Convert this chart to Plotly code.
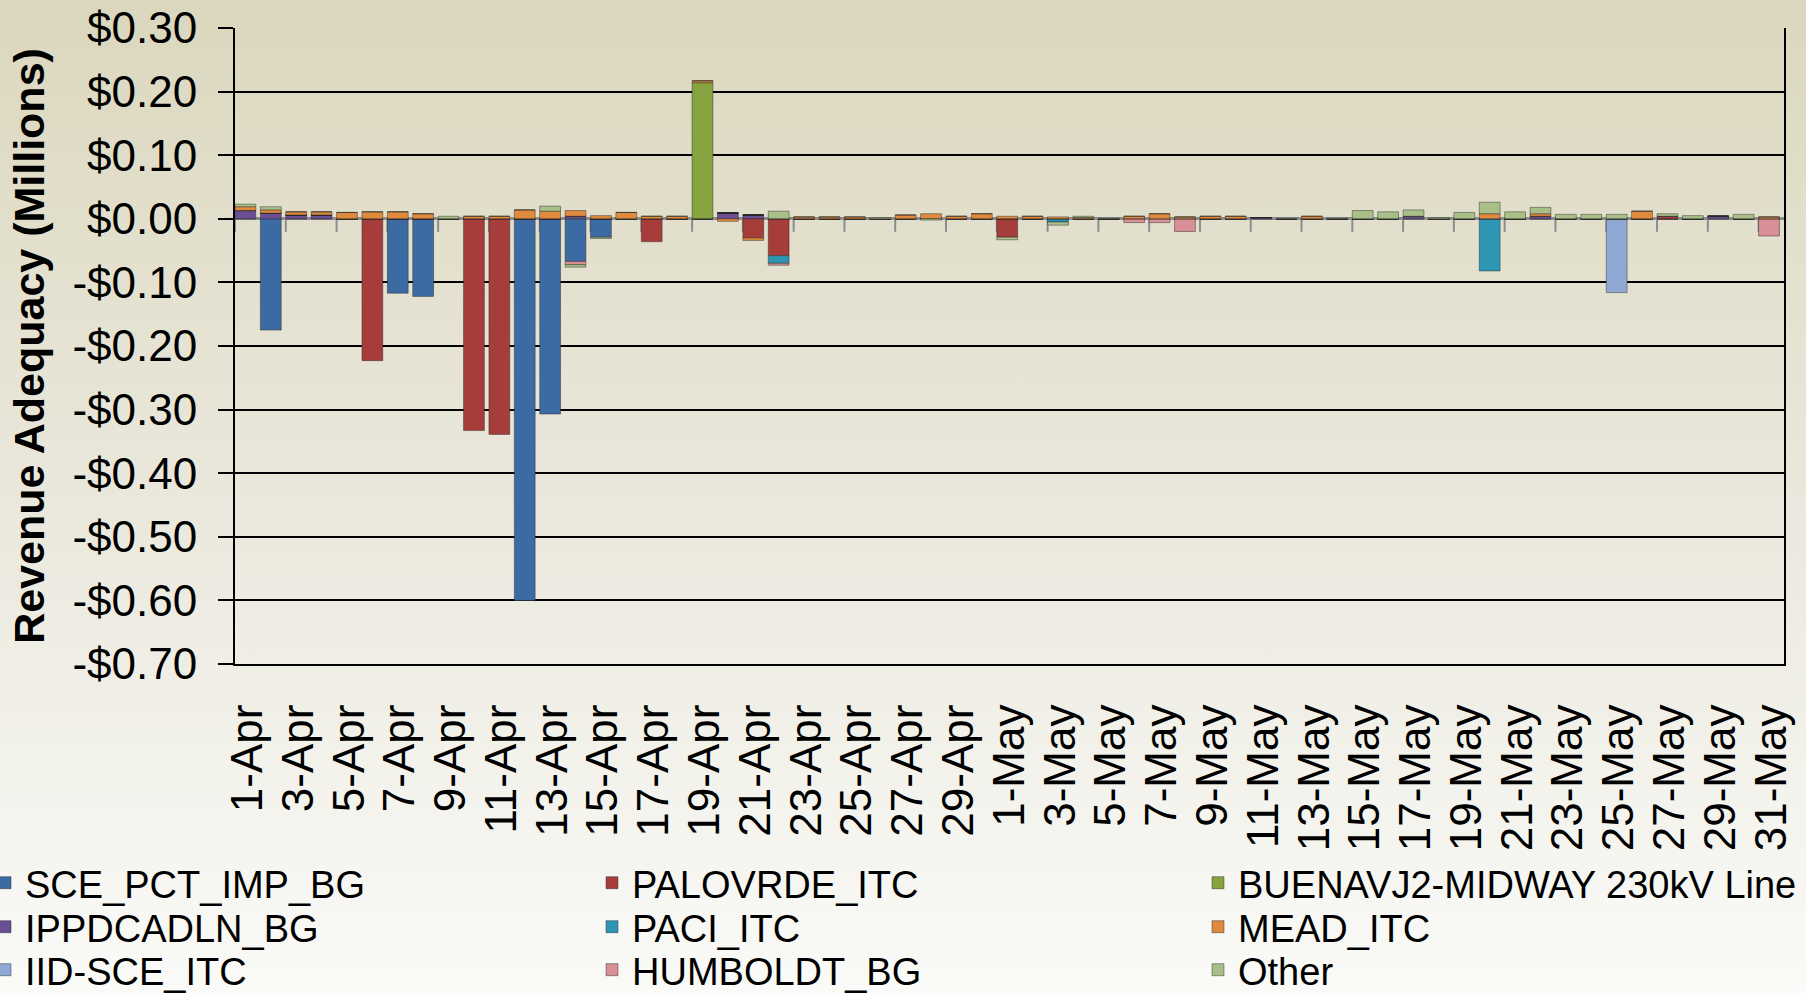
import base64
import plotly.graph_objects as go

# ---------------- data ----------------
DATES = [f"{d}-Apr" for d in range(1, 31)] + [f"{d}-May" for d in range(1, 32)]

SCE_PCT_IMP_BG = [
    0, -0.175, 0, 0, 0, 0, -0.117, -0.122, 0, 0,
    0, -0.600, -0.307, -0.067, -0.029, 0, 0, 0, 0, 0,
    0, 0, 0, 0, 0, 0, 0, 0, 0, 0,
    0, 0, 0, 0, 0, 0, 0, 0, 0, 0,
    0, 0, 0, 0, 0, 0, 0, 0, 0, 0,
    0, 0, 0, 0, 0, 0, 0, 0, 0, 0,
    0]
IPPDCADLN_BG = [
    0.013, 0.009, 0.006, 0.006, 0, 0, 0, 0, 0, 0,
    0, 0, 0, 0.004, 0, 0, 0, 0, 0, 0.009,
    0.006, 0, 0, 0, 0, 0, 0, 0, 0, 0,
    0, 0, 0, 0, 0, 0, 0, 0, 0, 0,
    0.002, 0, 0, 0, 0, 0, 0.004, 0, 0, 0,
    0, 0.004, 0, 0, 0, 0, 0, 0, 0.004, 0,
    0]
IID_SCE_ITC = [
    0, 0, 0, 0, 0, 0, 0, 0, 0, 0,
    0, 0, 0, 0, 0, 0, 0, 0, 0, 0,
    0, 0, 0, 0, 0, 0, 0, 0, 0, 0,
    0, 0, 0, 0, 0, 0, 0, 0, 0, 0,
    0, 0, 0, 0, 0, 0, 0, 0, 0, 0,
    0, 0, 0, 0, -0.116, 0, 0, 0, 0, 0,
    0]
PALOVRDE_ITC = [
    0, 0, 0, 0, 0, -0.223, 0, 0, 0, -0.333,
    -0.339, 0, 0, 0, 0, 0, -0.036, 0, 0, 0,
    -0.030, -0.058, 0, 0, 0, 0, 0, 0, 0, 0,
    -0.029, 0, 0, 0, 0, 0, 0, 0, 0, 0,
    0, 0, 0, 0, 0, 0, 0, 0, 0, 0,
    0, 0, 0, 0, 0, 0, 0.004, 0, 0, 0,
    0]
PACI_ITC = [
    0, 0, 0, 0, 0, 0, 0, 0, 0, 0,
    0, 0, 0, 0, 0, 0, 0, 0, 0, 0,
    0, -0.012, 0, 0, 0, 0, 0, 0, 0, 0,
    0, 0, -0.005, 0, 0, 0, 0, 0, 0, 0,
    0, 0, 0, 0, 0, 0, 0, 0, 0, -0.082,
    0, 0, 0, 0, 0, 0, 0, 0, 0, 0,
    0]
HUMBOLDT_BG = [
    0, 0, 0, 0, 0, 0, 0, 0, 0, 0,
    0, 0, 0, -0.005, 0, 0, 0, 0, 0, 0,
    0, -0.003, 0, 0, 0, 0, 0, 0, 0, 0,
    0, 0, 0, 0, 0, -0.006, -0.006, -0.020, 0, 0,
    0, 0, 0, 0, 0, 0, 0, 0, 0, 0,
    0, 0, 0, 0, 0, 0, 0, 0, 0, 0,
    -0.027]
BUENAVJ2_MIDWAY = [
    0, 0, 0, 0, 0, 0, 0, 0, 0, 0,
    0, 0, 0, 0, 0, 0, 0, 0, 0.214, 0,
    0, 0, 0, 0, 0, 0, 0, 0, 0, 0,
    0, 0, 0, 0, 0, 0, 0, 0, 0, 0,
    0, 0, 0, 0, 0, 0, 0, 0, 0, 0,
    0, 0, 0, 0, 0, 0, 0, 0, 0, 0,
    0]
MEAD_ITC = [
    0.006, 0.005, 0.005, 0.005, 0.010, 0.011, 0.011, 0.008, 0, 0.004,
    0.004, 0.014, 0.012, 0.009, 0.005, 0.010, 0.004, 0.004, 0.003, -0.004,
    -0.004, 0, 0.003, 0.003, 0.003, 0, 0.006, 0.008, 0.004, 0.008,
    0.004, 0.004, 0.003, 0.002, 0, 0.004, 0.008, 0.003, 0.004, 0.004,
    0, 0, 0.004, 0, 0, 0, 0, 0, 0, 0.008,
    0, 0.004, 0, 0, 0, 0.012, 0, 0, 0, 0,
    0.003]
OTHER = [
    0.004, 0.005, 0, 0, 0, 0, 0, 0, 0.004, 0,
    0, 0, 0.008, -0.004, -0.002, 0, 0, 0, 0, 0,
    0, 0.012, 0, 0, 0, 0.002, 0, -0.002, 0, 0,
    -0.004, 0, -0.005, 0.002, 0.001, 0, 0, 0, 0, 0,
    0, 0.001, 0, 0.001, 0.013, 0.011, 0.010, 0.002, 0.010, 0.018,
    0.011, 0.010, 0.007, 0.007, 0.007, 0, 0.004, 0.005, 0, 0.007,
    0]

# stacking order (Excel series order) with legend (column, row) slot
SERIES = [
    ("SCE_PCT_IMP_BG", SCE_PCT_IMP_BG, "#3C6AA3", 0, 0),
    ("IPPDCADLN_BG", IPPDCADLN_BG, "#6A4F94", 0, 1),
    ("IID-SCE_ITC", IID_SCE_ITC, "#8FA8D4", 0, 2),
    ("PALOVRDE_ITC", PALOVRDE_ITC, "#A63D3B", 1, 0),
    ("PACI_ITC", PACI_ITC, "#2F95B5", 1, 1),
    ("HUMBOLDT_BG", HUMBOLDT_BG, "#D88F96", 1, 2),
    ("BUENAVJ2-MIDWAY 230kV Line", BUENAVJ2_MIDWAY, "#86A33F", 2, 0),
    ("MEAD_ITC", MEAD_ITC, "#E08A3E", 2, 1),
    ("Other", OTHER, "#A8C088", 2, 2),
]

Y_MIN, Y_MAX = -0.7, 0.3
Y_TICKS = [0.3, 0.2, 0.1, 0.0, -0.1, -0.2, -0.3, -0.4, -0.5, -0.6, -0.7]
Y_TICK_LABELS = ["$0.30", "$0.20", "$0.10", "$0.00", "-$0.10", "-$0.20",
                 "-$0.30", "-$0.40", "-$0.50", "-$0.60", "-$0.70"]
X_TICKS = DATES[::2]

# ---------------- layout geometry ----------------
W, H = 1806, 993
ML, MR, MT, MB = 235, 22, 28, 329
PW, PH = W - ML - MR, H - MT - MB
FONT = "Liberation Sans, Arial, sans-serif"
LEGEND_COL_PX = [-15, 592, 1198]     # left edge of each legend column (figure px)
LEGEND_ROW_PX = [883, 927, 970]      # centre of each legend row (figure px)


def px_to_paper_x(px):
    return (px - ML) / PW


def px_to_paper_y(py):
    return (H - MB - py) / PH


fig = go.Figure()
legends = {}
for name, vals, color, col, row in SERIES:
    idx = row * 3 + col + 1
    key = "legend" if idx == 1 else f"legend{idx}"
    legends[key] = dict(
        x=px_to_paper_x(LEGEND_COL_PX[col]), y=px_to_paper_y(LEGEND_ROW_PX[row]),
        xanchor="left", yanchor="middle", orientation="v",
        font=dict(family=FONT, size=38, color="black"),
        bgcolor="rgba(0,0,0,0)",
    )
    fig.add_trace(go.Bar(
        x=DATES, y=vals, name=name, legend=key,
        marker=dict(color=color, line=dict(color="rgba(40,40,40,0.45)", width=1)),
        width=0.82, offset=-0.5,
    ))

# zero-axis tick marks every two categories (category boundaries)
shapes = []
for k in range(0, len(DATES), 2):
    shapes.append(dict(
        type="line", xref="x", yref="y", x0=k - 0.5, x1=k - 0.5,
        ysizemode="pixel", yanchor=0, y0=0, y1=-13,
        line=dict(color="#8C8C8C", width=2), layer="below"))

svg = (
    '<svg xmlns="http://www.w3.org/2000/svg" viewBox="0 0 100 100" width="100" height="100" '
    'preserveAspectRatio="none">'
    '<defs><linearGradient id="g" x1="0" y1="0" x2="0" y2="1">'
    '<stop offset="0" stop-color="#DBD7BE"/>'
    '<stop offset="0.5" stop-color="#EAE8DC"/>'
    '<stop offset="1" stop-color="#FAFAF8"/>'
    '</linearGradient></defs>'
    '<rect x="0" y="0" width="100" height="100" fill="url(#g)"/></svg>'
)
bg_src = "data:image/svg+xml;base64," + base64.b64encode(svg.encode()).decode()

fig.update_layout(
    width=W, height=H,
    margin=dict(l=ML, r=MR, t=MT, b=MB, autoexpand=False),
    barmode="relative",
    paper_bgcolor="#ECEAE0",
    plot_bgcolor="rgba(0,0,0,0)",
    font=dict(family=FONT, color="black"),
    shapes=shapes,
    images=[dict(source=bg_src, xref="paper", yref="paper",
                 x=-ML / PW, y=1 + MT / PH, sizex=W / PW, sizey=H / PH,
                 xanchor="left", yanchor="top", sizing="stretch", layer="below")],
    showlegend=True,
    xaxis=dict(
        type="category", categoryorder="array", categoryarray=DATES,
        range=[-0.5, len(DATES) - 0.5],
        tickmode="array", tickvals=X_TICKS, ticktext=X_TICKS,
        tickangle=-90, tickfont=dict(family=FONT, size=44),
        ticks="", ticklabelstandoff=21,
        showline=True, linecolor="black", linewidth=2, mirror=False,
        showgrid=False, zeroline=False, automargin=False,
    ),
    yaxis=dict(
        range=[Y_MIN, Y_MAX],
        tickmode="array", tickvals=Y_TICKS, ticktext=Y_TICK_LABELS,
        tickfont=dict(family=FONT, size=44),
        ticks="outside", ticklen=15, tickwidth=2, tickcolor="black",
        ticklabelstandoff=12,
        showline=True, linecolor="black", linewidth=2, mirror=True,
        showgrid=True, gridcolor="black", gridwidth=2,
        zeroline=True, zerolinecolor="#8C8C8C", zerolinewidth=3,
        automargin=False,
        title=dict(text="Revenue Adequacy (Millions)",
                   font=dict(family=FONT, size=43, weight="bold"),
                   standoff=14),
    ),
)
fig.update_layout(**legends)

fig.write_html(
    "out.html",
    config={"displayModeBar": False},
    post_script="document.body.style.margin='0px';document.body.style.overflow='hidden';",
)
